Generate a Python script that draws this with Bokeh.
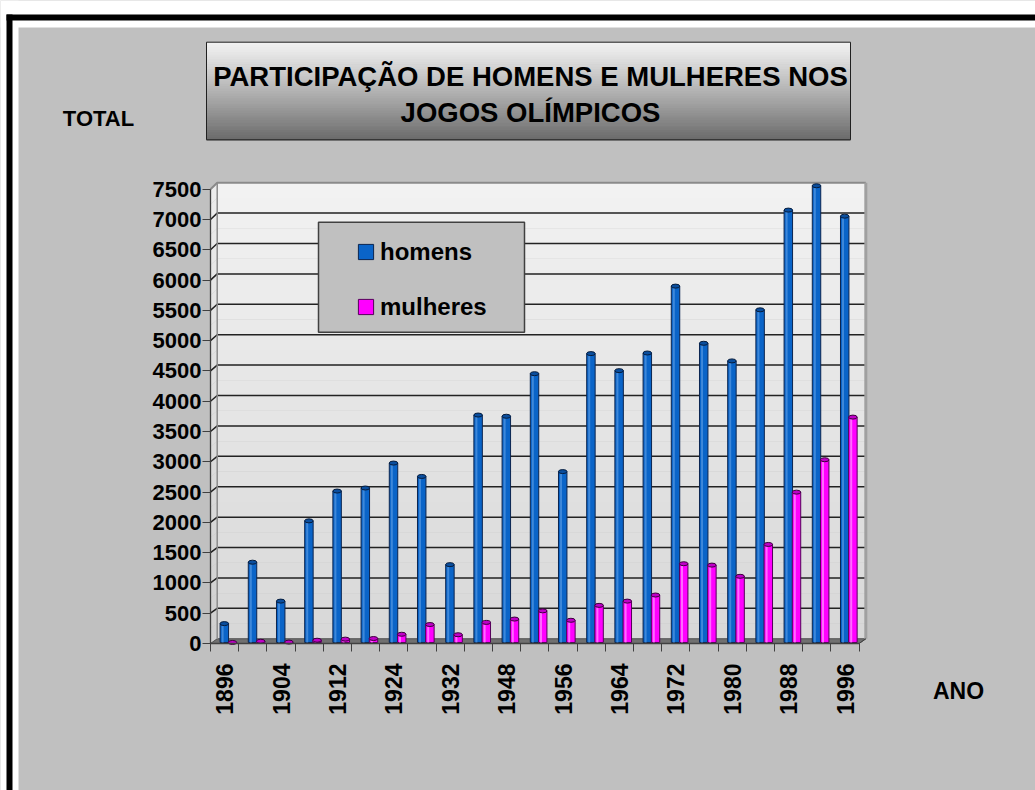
import math
from bokeh.plotting import figure
from bokeh.models import (Range1d, FixedTicker, BoxAnnotation, Label, Legend,
                          LegendItem, ColumnDataSource)
from bokeh.embed import file_html
from bokeh.resources import INLINE

# ---------------- data ----------------
years = [1896, 1900, 1904, 1908, 1912, 1920, 1924, 1928, 1932, 1936, 1948, 1952,
         1956, 1960, 1964, 1968, 1972, 1976, 1980, 1984, 1988, 1992, 1996]
homens = [310, 1320, 680, 2000, 2490, 2540, 2950, 2730, 1280, 3740, 3720, 4420,
          2810, 4750, 4470, 4760, 5860, 4920, 4630, 5470, 7110, 7510, 7010]
mulheres = [0, 20, 6, 37, 55, 65, 135, 295, 127, 330, 385, 520,
            365, 610, 680, 780, 1295, 1272, 1088, 1612, 2472, 3005, 3706]
x_tick_labels = ["1896", "1904", "1912", "1924", "1932", "1948",
                 "1956", "1964", "1972", "1980", "1988", "1996"]
y_ticks = [0, 500, 1000, 1500, 2000, 2500, 3000, 3500, 4000, 4500,
           5000, 5500, 6000, 6500, 7000, 7500]
series_names = ["homens", "mulheres"]
title_lines = ["PARTICIPAÇÃO DE HOMENS E MULHERES NOS", "JOGOS OLÍMPICOS"]
y_title = "TOTAL"
x_title = "ANO"

FONT = "Liberation Sans"
W, H = 1035, 790

# geometry of the plot area (pixels)
AX_X = 210.0        # front value axis position
AX_Y = 643.0        # front category axis position
PX_CAT = 28.2       # pixels per category
PX_VAL = 0.06057    # pixels per value unit

# pseudo-3D depth
DX = 0.238        # horizontal depth offset (categories)
DY = 78           # vertical depth offset (value units)
DK = 1.004        # depth scale
BASE = 17         # bar base (value units)


def back(v):
    return DY + DK * v


x0 = -0.5 - AX_X / PX_CAT
x1 = -0.5 + (W - AX_X) / PX_CAT
y0 = -(H - AX_Y) / PX_VAL
y1 = AX_Y / PX_VAL

p = figure(width=W, height=H, output_backend="svg", toolbar_location=None,
           x_range=Range1d(x0, x1), y_range=Range1d(y0, y1),
           min_border=0, min_border_left=0, min_border_right=0,
           min_border_top=0, min_border_bottom=0)
p.extra_x_ranges = {"px": Range1d(0, W)}
p.extra_y_ranges = {"py": Range1d(H, 0)}
p.border_fill_color = "#C0C0C0"
p.background_fill_color = "#C0C0C0"
p.outline_line_color = None
p.xgrid.visible = False
p.ygrid.visible = False

n = len(years)
top_v = y_ticks[-1]

def mix(c0, c1, t):
    return "#%02x%02x%02x" % tuple(int(round(a + (b - a) * t)) for a, b in zip(c0, c1))

# ---- page frame: white gap and black border (pixel coordinates) ----
p.quad(left=[0, 0], right=[18, W], top=[0, 0], bottom=[H, 27],
       x_range_name="px", y_range_name="py", fill_color="white", line_color=None)
p.quad(left=[6, 6], right=[12, W], top=[14, 14], bottom=[H, 20],
       x_range_name="px", y_range_name="py", fill_color="black", line_color=None)

# ---- back wall and left wall (gradient bands) ----
NB = 30
bl, br, bb, bt, bc = [], [], [], [], []
lw_xs, lw_ys, lw_c = [], [], []
for k in range(NB):
    v0 = top_v * k / NB
    v1 = top_v * (k + 1) / NB
    t = (k + 0.5) / NB
    bl.append(-0.5 + DX); br.append(n - 0.5 + DX)
    bb.append(back(v0)); bt.append(back(v1))
    bc.append(mix((0xD8, 0xD8, 0xD8), (0xF2, 0xF2, 0xF2), t))
    lw_xs.append([-0.5, -0.5 + DX, -0.5 + DX, -0.5])
    lw_ys.append([v0, back(v0), back(v1), v1])
    lw_c.append(mix((0xD0, 0xD0, 0xD0), (0xEC, 0xEC, 0xEC), t))
p.quad(left=bl, right=br, bottom=bb, top=bt, fill_color=bc, line_color=None)
p.patches(lw_xs, lw_ys, fill_color=lw_c, line_color=None)

# floor
p.patch([-0.5, n - 0.5, n - 0.5 + DX, -0.5 + DX], [0, 0, back(0), back(0)],
        fill_color="#707070", line_color="#505050", line_width=1)

# gridlines across left wall + back wall
gx, gy = [], []
for v in y_ticks[1:-1]:
    gx.append([-0.5, -0.5 + DX, n - 0.5 + DX])
    gy.append([v, back(v), back(v)])
p.multi_line(gx, gy, line_color="#222222", line_width=1.5)
p.line([-0.5, -0.5 + DX, n - 0.5 + DX], [top_v, back(top_v), back(top_v)],
       line_color="#8a8a8a", line_width=2)
p.line([-0.5 + DX, -0.5 + DX], [back(0), back(top_v)], line_color="#8c8c8c", line_width=1.5)
p.line([n - 0.5 + DX, n - 0.5 + DX], [back(0), back(top_v)], line_color="#a0a0a0", line_width=3)
p.line([n - 0.5, n - 0.5 + DX], [0, back(0)], line_color="#404040", line_width=1)

# ---- bars (cylinders) ----
BW = 0.30
src = ColumnDataSource(dict(
    xh=[i - 0.01 for i in range(n)],
    xm=[i + 0.28 for i in range(n)],
    xh_hl=[i - 0.07 for i in range(n)],
    xm_hl=[i + 0.22 for i in range(n)],
    th=[BASE + DK * v for v in homens],
    tm=[BASE + DK * v for v in mulheres],
))

r_h = p.vbar(x="xh", width=BW, bottom=BASE, top="th", source=src,
             fill_color="#0A64C8", line_color="#0B2550", line_width=1)
p.vbar(x="xh_hl", width=0.07, bottom=BASE, top="th", source=src,
       fill_color="#3E88DA", line_color=None)
p.ellipse(x="xh", y="th", width=BW, height=4, height_units="screen", source=src,
          fill_color="#0A4E9E", line_color="#061C3C", line_width=1)

r_m = p.vbar(x="xm", width=BW, bottom=BASE, top="tm", source=src,
             fill_color="#FF00FF", line_color="#55005A", line_width=1)
p.vbar(x="xm_hl", width=0.07, bottom=BASE, top="tm", source=src,
       fill_color="#FF6CFF", line_color=None)
p.ellipse(x="xm", y="tm", width=BW, height=4, height_units="screen", source=src,
          fill_color="#C000C8", line_color="#3C003C", line_width=1)

# ---- axes (fixed inside the frame) ----
yax = p.yaxis[0]
yax.fixed_location = -0.5
yax.ticker = FixedTicker(ticks=y_ticks)
yax.bounds = (0, top_v)
yax.major_tick_out = 8
yax.major_tick_in = 0
yax.minor_tick_out = 0
yax.minor_tick_in = 0
yax.axis_line_color = "#404040"
yax.axis_line_width = 1.3
yax.major_tick_line_color = "#404040"
yax.major_label_standoff = 1
yax.major_label_text_font = FONT
yax.major_label_text_font_size = "22px"
yax.major_label_text_font_style = "bold"
yax.major_label_text_color = "black"

xax = p.xaxis[0]
xax.fixed_location = 0
major_pos = list(range(0, n, 2))
xax.ticker = FixedTicker(ticks=major_pos, minor_ticks=[i - 0.5 for i in range(n + 1)])
xax.major_label_overrides = {pos: lab for pos, lab in zip(major_pos, x_tick_labels)}
xax.bounds = (-0.5, n - 0.5)
xax.major_tick_out = 0
xax.major_tick_in = 0
xax.minor_tick_out = 8
xax.minor_tick_in = 0
xax.minor_tick_line_color = "#404040"
xax.axis_line_color = "#404040"
xax.axis_line_width = 1.3
xax.major_label_orientation = math.pi / 2
xax.major_label_standoff = 12
xax.major_label_text_font = FONT
xax.major_label_text_font_size = "23px"
xax.major_label_text_font_style = "bold"
xax.major_label_text_color = "black"

# ---- title box with vertical gradient (pixel coordinates) ----
TB_L, TB_R, TB_T, TB_B = 206, 850, 41.7, 139.3
NT = 40
tl, tr, tt, tb, tc = [], [], [], [], []
for k in range(NT):
    a = TB_T + (TB_B - TB_T) * k / NT
    b = TB_T + (TB_B - TB_T) * (k + 1) / NT
    t = (k + 0.5) / NT
    tl.append(TB_L); tr.append(TB_R); tt.append(a); tb.append(b + 0.6)
    tc.append(mix((0xF2, 0xF2, 0xF2), (0x6A, 0x6A, 0x6A), t ** 1.1))
p.quad(left=tl, right=tr, top=tt, bottom=tb, fill_color=tc, line_color=None,
       x_range_name="px", y_range_name="py")
p.quad(left=[TB_L], right=[TB_R], top=[TB_T], bottom=[TB_B], fill_alpha=0,
       line_color="#202020", line_width=1, x_range_name="px", y_range_name="py")

for txt, yy in zip(title_lines, [76, 112]):
    p.add_layout(Label(x=530, y=yy, x_range_name="px", y_range_name="py", text=txt,
                       text_align="center", text_baseline="middle",
                       text_font=FONT, text_font_size="27.5px",
                       text_font_style="bold", text_color="black"))

p.add_layout(Label(x=98, y=118, x_range_name="px", y_range_name="py", text=y_title,
                   text_align="center", text_baseline="middle", text_font=FONT,
                   text_font_size="22px", text_font_style="bold", text_color="black"))
p.add_layout(Label(x=958, y=690, x_range_name="px", y_range_name="py", text=x_title,
                   text_align="center", text_baseline="middle", text_font=FONT,
                   text_font_size="23px", text_font_style="bold", text_color="black"))

# ---- legend box + legend ----
p.add_layout(BoxAnnotation(left=318, right=524, top=221.7, bottom=331.7,
                           x_range_name="px", y_range_name="py",
                           fill_color="#C0C0C0", fill_alpha=1,
                           line_color="#404040", line_width=1.5, line_alpha=1))
legend = Legend(items=[LegendItem(label=series_names[0], renderers=[r_h]),
                       LegendItem(label=series_names[1], renderers=[r_m])],
                location=(356, 469.5), orientation="vertical",
                label_text_font=FONT, label_text_font_size="24px",
                label_text_font_style="bold", label_text_color="black",
                glyph_width=19, glyph_height=19, label_standoff=5,
                spacing=27, padding=0, margin=0,
                background_fill_alpha=0, border_line_alpha=0)
p.add_layout(legend, "center")

open("out.html", "w").write(file_html(p, INLINE))
